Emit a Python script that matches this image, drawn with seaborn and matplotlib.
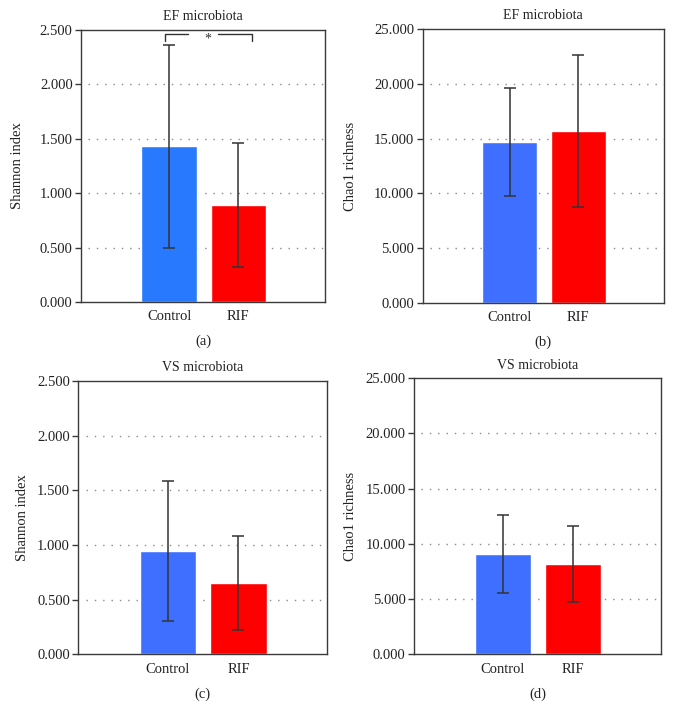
import matplotlib
matplotlib.use("Agg")
import matplotlib.pyplot as plt
import seaborn as sns
import pandas as pd

sns.set_theme(style="white")
plt.rcParams['font.family'] = ['Liberation Serif', 'DejaVu Serif']

groups = ["Control", "RIF"]

ef_shannon_mean = [1.43, 0.89]
ef_shannon_sd = [0.93, 0.57]
ef_chao1_mean = [14.70, 15.68]
ef_chao1_sd = [4.90, 6.90]
vs_shannon_mean = [0.945, 0.652]
vs_shannon_sd = [0.638, 0.432]
vs_chao1_mean = [9.10, 8.18]
vs_chao1_sd = [3.56, 3.41]

shannon_ticks = [0.0, 0.5, 1.0, 1.5, 2.0, 2.5]
shannon_labels = ["0.000", "0.500", "1.000", "1.500", "2.000", "2.500"]
chao_ticks = [0, 5, 10, 15, 20, 25]
chao_labels = ["0.000", "5.000", "10.000", "15.000", "20.000", "25.000"]

titles = ["EF microbiota", "EF microbiota", "VS microbiota", "VS microbiota"]
ylabels = ["Shannon index", "Chao1 richness", "Shannon index", "Chao1 richness"]
panel_labels = ["(a)", "(b)", "(c)", "(d)"]

blue_a = "#2979FF"
blue = "#3F6FFF"
red = "#FF0000"

fig = plt.figure(figsize=(6.73, 7.2), dpi=100)
positions = [
    [0.1204, 0.5806, 0.3626, 0.3778],
    [0.6280, 0.5792, 0.3586, 0.3806],
    [0.1164, 0.0913, 0.3690, 0.3796],
    [0.6152, 0.0913, 0.3666, 0.3833],
]
label_pads = [11, 12, 6, 6]
datasets = [
    (ef_shannon_mean, ef_shannon_sd, shannon_ticks, shannon_labels, blue_a),
    (ef_chao1_mean, ef_chao1_sd, chao_ticks, chao_labels, blue),
    (vs_shannon_mean, vs_shannon_sd, shannon_ticks, shannon_labels, blue),
    (vs_chao1_mean, vs_chao1_sd, chao_ticks, chao_labels, blue),
]

spine_col = "#3a3a3a"
err_col = "#333333"

for i, (pos, (means, sds, ticks, tlabels, bcol)) in enumerate(zip(positions, datasets)):
    ax = fig.add_axes(pos)
    df = pd.DataFrame({"group": groups, "value": means})
    sns.barplot(data=df, x="group", y="value", hue="group",
                palette=[bcol, red], width=0.8, errorbar=None,
                legend=False, ax=ax, saturation=1, zorder=2)
    ax.errorbar([0, 1], means, yerr=sds, fmt="none", ecolor=err_col,
                elinewidth=1.1, capsize=4.5, capthick=1.1, zorder=3)
    ax.set_xlim(-1.27, 2.25)
    ax.set_ylim(ticks[0], ticks[-1])
    ax.set_yticks(ticks)
    ax.set_yticklabels(tlabels, fontsize=10.5, color="#222222")
    for t in ticks[1:-1]:
        ax.axhline(t, xmin=0.03, xmax=1.0, color="#8a8a8a", lw=1.0,
                   linestyle=(0, (1, 5)), zorder=1)
    ax.set_xlabel("")
    ax.set_ylabel(ylabels[i], fontsize=10.5, color="#222222", labelpad=label_pads[i])
    ax.set_title(titles[i], fontsize=10, color="#222222", pad=7)
    ax.tick_params(axis="x", length=0, pad=6, labelsize=10.5, colors="#222222")
    ax.tick_params(axis="y", length=4, width=1, direction="out",
                   color=spine_col, pad=2, left=True)
    for s in ax.spines.values():
        s.set_visible(True)
        s.set_color(spine_col)
        s.set_linewidth(1.0)
    ax.text(0.5, -0.145, panel_labels[i], transform=ax.transAxes,
            ha="center", va="center", fontsize=10.5, color="#222222")
    if i == 0:
        # significance bracket
        yb, ye = 2.463, 2.40
        ax.plot([-0.055, -0.055, 0.27], [ye, yb, yb], color=err_col, lw=1.0,
                clip_on=False, zorder=4)
        ax.plot([0.70, 1.19, 1.19], [yb, yb, ye], color=err_col, lw=1.0,
                clip_on=False, zorder=4)
        ax.text(0.553, 2.415, "*", ha="center", va="center", fontsize=10,
                color=err_col)

fig.savefig("out.png", dpi=100)
